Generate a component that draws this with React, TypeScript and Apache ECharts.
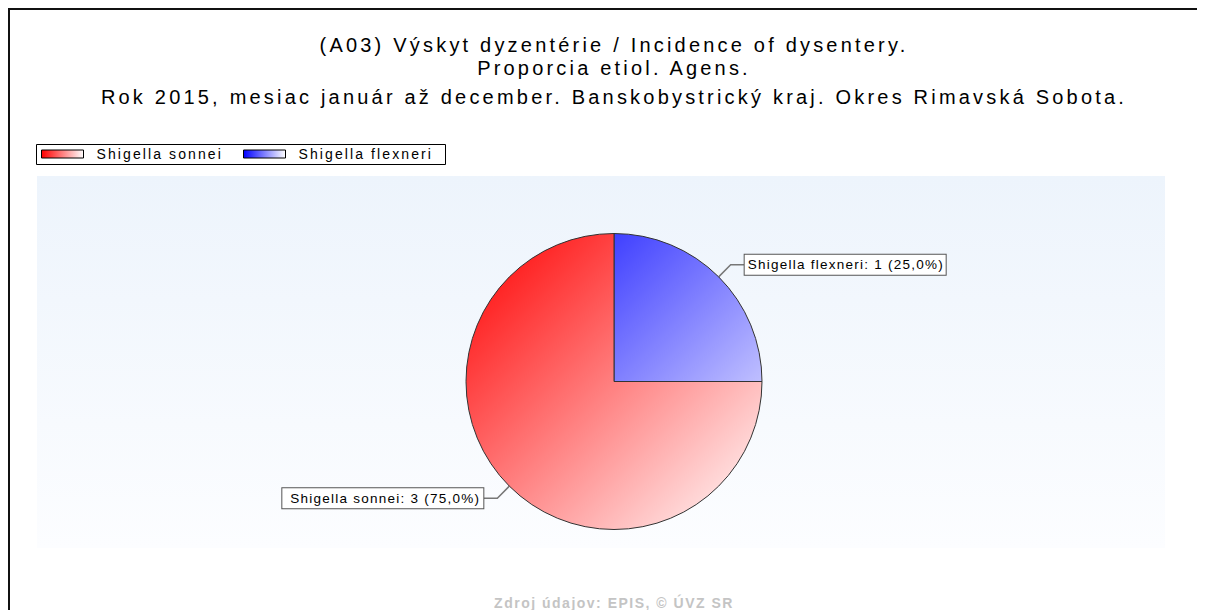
import React, { useEffect, useRef } from 'react';
import * as echarts from 'echarts';

const TITLE_LINES = [
  '(A03) Výskyt dyzentérie / Incidence of dysentery.',
  'Proporcia etiol. Agens.',
  'Rok 2015, mesiac január až december. Banskobystrický kraj. Okres Rimavská Sobota.',
];
const CATEGORIES = ['Shigella flexneri', 'Shigella sonnei'];
const VALUES = [1, 3];
const SLICE_COLORS = ['#0000ff', '#ff0000'];
const LEGEND_ORDER = ['Shigella sonnei', 'Shigella flexneri'];
const FOOTER = 'Zdroj údajov: EPIS, © ÚVZ SR';

const FONT = "'Liberation Sans', Arial, sans-serif";
const W = 1197;
const H = 602;
const CX = 606;
const CY = 373.5;
const R = 148;
const TITLE_Y = [36.5, 59.5, 88.5];
const LEGEND_X = [33, 235];

const css = `
.chart-host text[style*="20px"] { letter-spacing: 3.2px; }
.chart-host text[style*="14px"] { letter-spacing: 2.1px; }
.chart-host text[style*="13.5px"] { letter-spacing: 1.25px; }
.chart-host text[style*="bold"] { letter-spacing: 1.5px; }
`;

function sliceGradient(color: string) {
  return new echarts.graphic.LinearGradient(
    CX - R, CY - R, CX + R, CY + R,
    [
      { offset: 0, color },
      { offset: 1, color: '#ffffff' },
    ],
    true
  );
}

function iconGradient(color: string) {
  return new echarts.graphic.LinearGradient(0, 0, 1, 0, [
    { offset: 0, color },
    { offset: 1, color: '#ffffff' },
  ]);
}

export default function App() {
  const ref = useRef<HTMLDivElement>(null);

  useEffect(() => {
    if (!ref.current) return;
    const chart = echarts.init(ref.current, undefined, { renderer: 'svg' });
    const colorOf = (name: string) => SLICE_COLORS[CATEGORIES.indexOf(name)];

    const option: any = {
      animation: false,
      backgroundColor: '#ffffff',
      graphic: [
        {
          type: 'rect',
          z: -10,
          silent: true,
          shape: { x: 29, y: 168, width: 1128, height: 372 },
          style: {
            fill: new echarts.graphic.LinearGradient(0, 0, 0, 1, [
              { offset: 0, color: '#edf4fc' },
              { offset: 1, color: '#fcfdff' },
            ]),
          },
        },
        {
          type: 'rect',
          z: -10,
          silent: true,
          shape: { x: 28.5, y: 136.5, width: 409, height: 20 },
          style: { fill: '#ffffff', stroke: '#000', lineWidth: 1 },
        },
        {
          type: 'line',
          silent: true,
          shape: { x1: 0, y1: 1, x2: W, y2: 1 },
          style: { stroke: '#111', lineWidth: 2 },
        },
        {
          type: 'line',
          silent: true,
          shape: { x1: 1, y1: 0, x2: 1, y2: H },
          style: { stroke: '#111', lineWidth: 2 },
        },
        ...TITLE_LINES.map((t, i) => ({
          type: 'text',
          silent: true,
          x: CX,
          y: TITLE_Y[i],
          style: {
            text: t,
            fontSize: 20,
            fontFamily: FONT,
            fill: '#000',
            textAlign: 'center',
            textVerticalAlign: 'middle',
          },
        })),
        {
          type: 'text',
          silent: true,
          x: CX,
          y: 595,
          style: {
            text: FOOTER,
            fontSize: 14,
            fontWeight: 'bold',
            fontFamily: FONT,
            fill: '#c4c4c4',
            textAlign: 'center',
            textVerticalAlign: 'middle',
          },
        },
      ],
      legend: LEGEND_ORDER.map((name, i) => ({
        left: LEGEND_X[i],
        top: 139,
        orient: 'horizontal',
        icon: 'rect',
        itemWidth: 42,
        itemHeight: 8,
        padding: 0,
        selectedMode: false,
        itemStyle: { borderColor: '#000', borderWidth: 1 },
        textStyle: {
          fontSize: 14,
          fontFamily: FONT,
          color: '#000',
          padding: [0, 0, 0, 8],
        },
        data: [
          {
            name,
            itemStyle: { color: iconGradient(colorOf(name)) },
          },
        ],
      })),
      series: [
        {
          type: 'pie',
          center: [CX, CY],
          radius: R,
          startAngle: 90,
          clockwise: true,
          avoidLabelOverlap: false,
          silent: true,
          emphasis: { disabled: true, scale: false },
          itemStyle: { borderColor: '#333', borderWidth: 1 },
          label: {
            show: true,
            position: 'outside',
            formatter: (p: any) =>
              `${p.name}: ${p.value} (${p.percent.toFixed(1).replace('.', ',')}%)`,
            fontSize: 13.5,
            fontFamily: FONT,
            color: '#000',
            backgroundColor: '#ffffff',
            borderColor: '#555',
            borderWidth: 1,
            padding: [3, 3, 3, 3],
            width: 195,
            distanceToLabelLine: 0,
          },
          labelLine: {
            show: true,
            length: 17,
            length2: 14,
            lineStyle: { color: '#777', width: 1.5 },
          },
          data: CATEGORIES.map((name, i) => ({
            name,
            value: VALUES[i],
            itemStyle: { color: sliceGradient(SLICE_COLORS[i]) },
          })),
        },
      ],
    };

    chart.setOption(option);
    return () => chart.dispose();
  }, []);

  return (
    <>
      <style>{css}</style>
      <div className="chart-host" ref={ref} style={{ width: W, height: H }} />
    </>
  );
}
